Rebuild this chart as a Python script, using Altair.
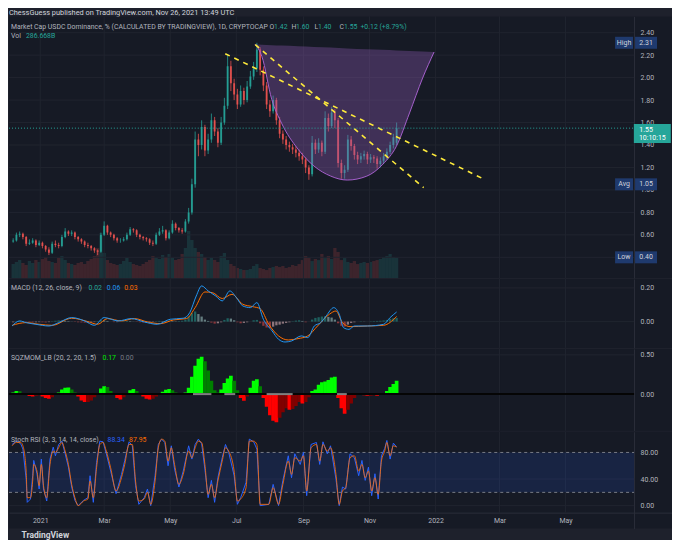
import altair as alt
import pandas as pd

# ============================ data ============================
HEADER = "ChessGuess published on TradingView.com, Nov 26, 2021 13:49 UTC"
SYMBOL = "Market Cap USDC Dominance, % (CALCULATED BY TRADINGVIEW), 1D, CRYPTOCAP"
OHLC_LETTERS = ["O", "H", "L", "C"]
OHLC_VALUES = [1.42, 1.60, 1.40, 1.55]
CHANGE_TEXT = "+0.12 (+8.79%)"
VOL_TEXT = "286.668B"
MACD_TITLE = "MACD (12, 26, close, 9)"
MACD_LAST = [0.02, 0.06, 0.03]
SQZ_TITLE = "SQZMOM_LB (20, 2, 20, 1.5)"
SQZ_LAST = [0.17, 0.00]
STOCH_TITLE = "Stoch RSI (3, 3, 14, 14, close)"
STOCH_LAST = [88.34, 87.95]
HIGH_VAL, AVG_VAL, LOW_VAL, LAST_VAL = 2.31, 1.05, 0.40, 1.55
COUNTDOWN = "10:10:15"

TIME_TICKS = ["2021-01-01", "2021-03-01", "2021-05-01", "2021-07-01", "2021-09-01",
              "2021-11-01", "2022-01-01", "2022-03-01", "2022-05-01"]
PRICE_TICKS = [0.40, 0.60, 0.80, 1.00, 1.20, 1.40, 1.60, 1.80, 2.00, 2.20, 2.40]
MACD_TICKS = [0.0, 0.2]
SQZ_TICKS = [0.0, 0.5]
STOCH_TICKS = [0, 40, 80]
STOCH_GRID = [0, 40]
STOCH_BAND = [20, 80]

# candles sampled every 3 days; day numbers count from 2021-01-01
CANDLE_FIRST_DAY = -25
CANDLE_STEP = 3
open_ = [0.54, 0.55, 0.60, 0.61, 0.58, 0.52, 0.53, 0.55, 0.51, 0.53,
         0.50, 0.47, 0.44, 0.52, 0.51, 0.50, 0.58, 0.63, 0.61, 0.62,
         0.58, 0.56, 0.54, 0.51, 0.50, 0.48, 0.46, 0.45, 0.60, 0.68,
         0.62, 0.60, 0.57, 0.55, 0.55, 0.56, 0.60, 0.65, 0.64, 0.60,
         0.58, 0.57, 0.56, 0.53, 0.52, 0.60, 0.63, 0.64, 0.57, 0.62,
         0.70, 0.66, 0.64, 0.63, 0.72, 0.80, 1.05, 1.45, 1.40, 1.56,
         1.35, 1.45, 1.62, 1.52, 1.42, 1.60, 1.75, 2.10, 1.95, 1.85,
         1.76, 1.88, 1.80, 1.92, 2.01, 2.08, 2.25, 2.07, 1.93, 1.76,
         1.70, 1.80, 1.62, 1.50, 1.45, 1.40, 1.38, 1.36, 1.33, 1.30,
         1.27, 1.20, 1.14, 1.42, 1.36, 1.42, 1.34, 1.64, 1.57, 1.69,
         1.62, 1.24, 1.15, 1.18, 1.45, 1.39, 1.31, 1.27, 1.30, 1.32,
         1.27, 1.29, 1.28, 1.23, 1.26, 1.30, 1.34, 1.40, 1.42]
high_ = [0.57, 0.62, 0.63, 0.62, 0.59, 0.56, 0.57, 0.56, 0.55, 0.54,
         0.51, 0.49, 0.54, 0.55, 0.53, 0.60, 0.66, 0.64, 0.64, 0.63,
         0.59, 0.57, 0.55, 0.53, 0.51, 0.49, 0.47, 0.62, 0.72, 0.69,
         0.63, 0.61, 0.58, 0.57, 0.58, 0.62, 0.67, 0.66, 0.65, 0.61,
         0.59, 0.58, 0.57, 0.55, 0.62, 0.66, 0.68, 0.65, 0.64, 0.73,
         0.71, 0.67, 0.66, 0.74, 0.84, 1.10, 1.52, 1.50, 1.62, 1.58,
         1.50, 1.68, 1.65, 1.55, 1.65, 1.82, 2.21, 2.15, 1.99, 1.90,
         1.93, 1.91, 1.97, 2.06, 2.14, 2.31, 2.27, 2.10, 1.96, 1.80,
         1.84, 1.82, 1.65, 1.53, 1.48, 1.43, 1.41, 1.39, 1.36, 1.33,
         1.29, 1.22, 1.48, 1.45, 1.46, 1.44, 1.70, 1.68, 1.74, 1.72,
         1.64, 1.27, 1.22, 1.49, 1.48, 1.41, 1.34, 1.33, 1.35, 1.34,
         1.32, 1.31, 1.30, 1.29, 1.33, 1.37, 1.43, 1.50, 1.60]
low_ = [0.53, 0.54, 0.58, 0.56, 0.50, 0.51, 0.52, 0.49, 0.50, 0.48,
        0.45, 0.42, 0.43, 0.49, 0.48, 0.49, 0.57, 0.59, 0.59, 0.56,
        0.54, 0.52, 0.49, 0.48, 0.46, 0.44, 0.42, 0.44, 0.59, 0.60,
        0.58, 0.55, 0.53, 0.53, 0.54, 0.55, 0.59, 0.62, 0.58, 0.56,
        0.55, 0.54, 0.51, 0.50, 0.51, 0.59, 0.61, 0.55, 0.56, 0.61,
        0.64, 0.62, 0.61, 0.62, 0.70, 0.78, 1.02, 1.30, 1.36, 1.30,
        1.32, 1.42, 1.48, 1.38, 1.40, 1.58, 1.72, 1.88, 1.80, 1.72,
        1.74, 1.76, 1.78, 1.90, 1.98, 2.05, 2.02, 1.88, 1.72, 1.65,
        1.68, 1.58, 1.46, 1.41, 1.36, 1.34, 1.32, 1.29, 1.26, 1.23,
        1.15, 1.09, 1.12, 1.32, 1.33, 1.30, 1.32, 1.52, 1.55, 1.55,
        1.20, 1.10, 1.10, 1.16, 1.35, 1.27, 1.23, 1.24, 1.27, 1.23,
        1.24, 1.24, 1.19, 1.20, 1.23, 1.27, 1.32, 1.37, 1.40]
close_ = [0.55, 0.60, 0.61, 0.58, 0.52, 0.53, 0.55, 0.51, 0.53, 0.50,
          0.47, 0.44, 0.52, 0.51, 0.50, 0.58, 0.63, 0.61, 0.62, 0.58,
          0.56, 0.54, 0.51, 0.50, 0.48, 0.46, 0.45, 0.60, 0.68, 0.62,
          0.60, 0.57, 0.55, 0.55, 0.56, 0.60, 0.65, 0.64, 0.60, 0.58,
          0.57, 0.56, 0.53, 0.52, 0.60, 0.63, 0.64, 0.57, 0.62, 0.70,
          0.66, 0.64, 0.63, 0.72, 0.80, 1.05, 1.45, 1.40, 1.56, 1.35,
          1.45, 1.62, 1.52, 1.42, 1.60, 1.75, 2.10, 1.95, 1.85, 1.76,
          1.88, 1.80, 1.92, 2.01, 2.08, 2.25, 2.07, 1.93, 1.76, 1.70,
          1.80, 1.62, 1.50, 1.45, 1.40, 1.38, 1.36, 1.33, 1.30, 1.27,
          1.20, 1.14, 1.42, 1.36, 1.42, 1.34, 1.64, 1.57, 1.69, 1.62,
          1.24, 1.15, 1.18, 1.45, 1.39, 1.31, 1.27, 1.30, 1.32, 1.27,
          1.29, 1.28, 1.23, 1.26, 1.30, 1.34, 1.40, 1.47, 1.55]
volume_b = [200, 230, 257, 215, 186, 243, 215, 257, 229, 272,
            300, 243, 229, 215, 286, 315, 257, 215, 200, 186,
            215, 229, 200, 243, 272, 315, 430, 640, 357, 257,
            215, 200, 186, 200, 243, 286, 229, 200, 186, 172,
            200, 229, 257, 315, 286, 272, 329, 300, 343, 286,
            257, 272, 343, 430, 672, 543, 429, 372, 343, 300,
            257, 286, 257, 229, 315, 357, 257, 200, 172, 143,
            129, 114, 114, 129, 172, 200, 143, 129, 114, 143,
            157, 172, 157, 172, 143, 157, 186, 172, 200, 257,
            315, 286, 243, 272, 257, 343, 286, 315, 272, 429,
            372, 257, 286, 229, 215, 243, 200, 215, 229, 215,
            229, 243, 257, 272, 300, 315, 343, 300, 287]
macd_hist = [-0.004, 0.002, 0.004, 0.002, -0.002, -0.004, -0.005, -0.004, -0.003, -0.004,
             -0.005, -0.003, 0.002, 0.005, 0.007, 0.006, 0.004, 0.003, 0.001, -0.002,
             -0.004, -0.005, -0.006, -0.006, -0.005, -0.003, 0.003, 0.008, 0.007, 0.004,
             0.0, -0.003, -0.003, 0.0, 0.002, 0.004, 0.003, 0.001, -0.002, -0.004,
             -0.005, -0.005, -0.004, -0.002, 0.002, 0.004, 0.003, 0.002, 0.004, 0.003,
             0.002, 0.003, 0.005, 0.012, 0.030, 0.050, 0.060, 0.045, 0.030, 0.012,
             0.004, -0.006, -0.012, -0.010, -0.004, 0.010, 0.020, 0.018, 0.008, -0.004,
             -0.010, -0.008, -0.004, 0.0, 0.008, 0.010, -0.010, -0.025, -0.035, -0.038,
             -0.030, -0.022, -0.018, -0.012, -0.008, -0.004, 0.002, 0.006, 0.008, 0.004,
             -0.004, 0.0, 0.012, 0.022, 0.026, 0.030, 0.032, 0.028, 0.024, 0.012,
             -0.010, -0.025, -0.030, -0.018, -0.008, -0.004, 0.0, 0.002, 0.001, 0.0,
             0.002, 0.003, 0.004, 0.005, 0.007, 0.010, 0.016, 0.020, 0.022]
sqz_mom = [0.02, 0.04, 0.035, 0.01, -0.01, -0.025, -0.03, -0.02, -0.015, -0.03,
           -0.05, -0.06, -0.04, -0.01, 0.02, 0.06, 0.08, 0.085, 0.06, 0.02,
           -0.03, -0.08, -0.10, -0.10, -0.08, -0.04, 0.0, 0.07, 0.10, 0.09,
           0.04, -0.01, -0.05, -0.07, -0.04, 0.01, 0.05, 0.064, 0.04, 0.005,
           -0.03, -0.06, -0.07, -0.06, -0.03, 0.005, 0.03, 0.055, 0.064, 0.05,
           0.02, 0.01, 0.012, 0.02, 0.08, 0.22, 0.36, 0.45, 0.475, 0.42,
           0.30, 0.17, 0.05, 0.02, 0.06, 0.14, 0.20, 0.233, 0.17, 0.05,
           -0.05, -0.085, -0.03, 0.08, 0.17, 0.19, 0.10, -0.05, -0.16, -0.27,
           -0.34, -0.36, -0.30, -0.23, -0.18, -0.20, -0.19, -0.15, -0.10, -0.12,
           -0.10, -0.04, 0.04, 0.06, 0.12, 0.15, 0.16, 0.18, 0.21, 0.22,
           -0.05, -0.18, -0.25, -0.20, -0.12, -0.05, -0.01, -0.01, -0.015, -0.02,
           -0.02, -0.015, -0.02, -0.01, 0.005, 0.04, 0.09, 0.13, 0.17]
SQZ_OFF_START = [141, 170, 209, 274]
SQZ_OFF_END = [158, 180, 233, 283]

macd_days = [-26, -19, -13, -4, 8, 17, 29, 41, 50, 59, 72, 84, 96, 108, 120, 132, 138, 144, 149, 155,
             162, 168, 175, 181, 187, 194, 200, 206, 214, 220, 226, 232, 241, 247, 253, 259, 264, 271,
             276, 280, 285, 290, 302, 317, 323, 329]
macd_line = [-0.026, 0.004, -0.006, -0.016, -0.026, -0.006, 0.024, 0.004, -0.022, 0.024,
             0.004, 0.018, -0.002, -0.016, 0.014, 0.020, 0.053, 0.152, 0.212, 0.182,
             0.152, 0.123, 0.182, 0.143, 0.093, 0.083, 0.113, 0.014, -0.055, -0.105,
             -0.121, -0.115, -0.085, -0.095, -0.026, -0.006, 0.034, 0.083, 0.044, -0.036,
             -0.046, -0.026, -0.026, -0.016, 0.024, 0.057]
signal_days = [-26, -13, -1, 11, 29, 44, 53, 62, 75, 87, 99, 111, 123, 135, 143, 152, 159, 168, 177,
               187, 196, 203, 211, 220, 229, 238, 247, 256, 267, 273, 279, 286, 302, 317, 329]
signal_line = [-0.022, -0.006, -0.016, -0.022, 0.020, 0.0, -0.016, 0.018, 0.004, 0.018,
               -0.002, -0.012, 0.010, 0.018, 0.083, 0.176, 0.172, 0.137, 0.162, 0.103,
               0.089, 0.077, -0.016, -0.085, -0.109, -0.101, -0.085, -0.026, 0.044, 0.063,
               -0.006, -0.030, -0.026, -0.022, 0.030]

stoch_days = [-26, -22, -18, -16, -13, -12, -9, -7, -6, -3,
              -1, 1, 3, 6, 9, 12, 14, 17, 20, 23,
              26, 29, 32, 35, 40, 44, 46, 49, 52, 55,
              58, 61, 65, 70, 75, 78, 82, 85, 88, 91,
              96, 99, 102, 106, 109, 112, 115, 118, 121, 124,
              128, 132, 137, 140, 143, 146, 149, 152, 155, 158,
              161, 164, 168, 171, 174, 179, 182, 185, 190, 193,
              197, 200, 203, 211, 215, 220, 224, 229, 232, 235,
              240, 243, 246, 250, 255, 258, 261, 265, 268, 273,
              276, 279, 282, 286, 290, 294, 297, 300, 303, 306,
              309, 312, 315, 318, 320, 323, 326, 329]
stoch_k = [92, 97, 93, 85, 40, 5, 10, 45, 68, 48,
           25, 70, 25, 7, 70, 88, 75, 92, 97, 78,
           58, 28, 8, 0, 8, 12, 45, 5, 65, 97,
           96, 78, 52, 18, 47, 68, 96, 90, 30, 2,
           12, 25, 0, 45, 92, 100, 95, 60, 90, 55,
           28, 52, 90, 70, 92, 100, 93, 55, 12, 38,
           5, 42, 72, 92, 80, 45, 2, 12, 35, 100,
           96, 85, 0, 2, 32, 0, 38, 75, 42, 78,
           62, 80, 15, 92, 95, 62, 96, 78, 90, 40,
           0, 28, 25, 78, 72, 45, 68, 38, 58, 15,
           48, 10, 75, 86, 98, 70, 94, 88.34]
stoch_d = [90, 95, 95, 90, 52, 12, 12, 37, 62, 52,
           30, 62, 30, 12, 62, 82, 80, 87, 95, 82,
           62, 32, 12, 0, 7, 10, 37, 12, 57, 92,
           95, 82, 57, 22, 42, 62, 92, 92, 37, 7,
           10, 20, 2, 37, 87, 100, 97, 67, 87, 62,
           32, 47, 82, 72, 87, 97, 95, 62, 17, 32,
           12, 37, 67, 87, 82, 52, 7, 10, 27, 97,
           97, 92, 2, 2, 27, 2, 32, 67, 47, 72,
           67, 75, 22, 87, 92, 67, 92, 82, 87, 47,
           2, 22, 27, 72, 75, 52, 62, 42, 52, 22,
           42, 17, 67, 82, 95, 75, 90, 87.95]

# drawings: cup outline and two falling trend lines
cup_days = [198.3, 204.6, 213.7, 222.8, 238.0, 252.8, 268.2, 283.4, 301.5, 316.3, 328.8, 340.9, 353.0, 363.6]
cup_low = [2.296, 2.189, 1.807, 1.594, 1.363, 1.212, 1.123, 1.088, 1.123, 1.229, 1.389, 1.685, 1.996, 2.228]
cup_top = [2.296, 2.293, 2.289, 2.285, 2.279, 2.273, 2.267, 2.260, 2.253, 2.247, 2.242, 2.237, 2.232, 2.228]
trend_a_days, trend_a_vals = [170.8, 407.7], [2.213, 1.105]
trend_b_days, trend_b_vals = [198.5, 354.0], [2.293, 1.020]

# ============================ styling / layout ============================
FONT = "Roboto"
BG_OUT = "#1e212c"
BG_IN = "#161a25"
GRID = "#20242f"
SEP = "#2a2e39"
TXT = "#b2b5be"
UP = "#26a69a"
DOWN = "#ef5350"
BLUE = "#2196f3"
ORANGE = "#ff6d00"
BADGE = "#1f3a6e"
LEG = 6.9          # legend font size

W = 664            # view width including the price-scale strip
PW = 626           # plotting width (left of the price scale)
PX_PER_DAY = 1.1014
D0 = -24.24
D1 = D0 + W / PX_PER_DAY
H_HEAD, H_MAIN, H_MACD, H_SQZ, H_STOCH, H_TIME = 6, 262, 69, 82, 81, 16

BASE = pd.Timestamp("2021-01-01", tz="UTC")


def iso(days):
    return [(BASE + pd.Timedelta(days=float(d))).strftime("%Y-%m-%dT%H:%M:%SZ") for d in days]


def ms(d):
    return int((BASE + pd.Timedelta(days=float(d))).timestamp() * 1000)


XS = alt.Scale(type="utc", domain=[ms(D0), ms(D1)])
TICK_MS = [int(pd.Timestamp(t, tz="UTC").timestamp() * 1000) for t in TIME_TICKS]
XAX_BOTTOM = alt.Axis(
    orient="bottom", offset=-H_TIME, values=TICK_MS, grid=False, ticks=False,
    domain=True, domainColor=SEP, labelColor=TXT, labelFontSize=7, labelFont=FONT,
    labelPadding=4, labelFlush=False, labelOverlap=False,
    labelExpr="utcmonth(datum.value) === 0 ? utcFormat(datum.value, '%Y') : utcFormat(datum.value, '%b')",
    title="TradingView", titleX=12, titleY=22, titleAlign="left", titleAnchor="start",
    titleBaseline="middle", titleAngle=0, titleFontSize=8.5, titleFontWeight="bold",
    titleColor="#d1d4dc", titleFont=FONT,
)


def yaxis(values):
    return alt.Axis(orient="right", offset=PW - W, values=values, format=".2f",
                    labelColor=TXT, labelFontSize=7, labelFont=FONT, labelPadding=6,
                    ticks=False, grid=False, domain=True, domainColor=SEP, title=None,
                    labelOverlap=False)


def label(text, x, y, color=TXT, size=LEG):
    return alt.Chart(pd.DataFrame({"t": [text]})).mark_text(
        align="left", baseline="middle", font=FONT, fontSize=size, color=color
    ).encode(x=alt.value(x), y=alt.value(y), text="t:N")


def grids(ys, yax, xax, ticks, h):
    hg = alt.Chart(pd.DataFrame({"v": ticks})).mark_rule(color=GRID, strokeWidth=1).encode(
        y=alt.Y("v:Q", scale=ys, axis=yax), x=alt.value(0), x2=alt.value(PW))
    vg = alt.Chart(pd.DataFrame({"t": TIME_TICKS})).mark_rule(color=GRID, strokeWidth=1).encode(
        x=alt.X("t:T", scale=XS, axis=xax), y=alt.value(0), y2=alt.value(h))
    return [hg, vg]


candle_days = [CANDLE_FIRST_DAY + CANDLE_STEP * i for i in range(len(close_))]
cand = pd.DataFrame({"date": iso(candle_days), "o": open_, "h": high_, "l": low_,
                     "c": close_, "vol": volume_b})
cand["col"] = [UP if c >= o else DOWN for o, c in zip(open_, close_)]

# ---------------------------- main panel ----------------------------
YS_MAIN = alt.Scale(domain=[0.216, 2.545], nice=False, zero=False)
YAX_MAIN = yaxis(PRICE_TICKS)
X = alt.X("date:T", scale=XS, axis=None)


def ym(f):
    return alt.Y(f, scale=YS_MAIN, axis=YAX_MAIN)


vol_layer = alt.Chart(cand).mark_bar(clip=True, width=3.3, opacity=0.18).encode(
    x=X, y=alt.Y("vol:Q", scale=alt.Scale(domain=[0, 3750], nice=False), axis=None),
    color=alt.Color("col:N", scale=None))

wick = alt.Chart(cand).mark_rule(clip=True, strokeWidth=0.9, opacity=0.85).encode(
    x=X, y=ym("l:Q"), y2="h:Q", color=alt.Color("col:N", scale=None))
body = alt.Chart(cand).mark_bar(clip=True, width=1.9, opacity=0.85).encode(
    x=X, y=ym("o:Q"), y2="c:Q", color=alt.Color("col:N", scale=None))

cup = pd.DataFrame({"date": iso(cup_days), "lo": cup_low, "hi": cup_top})
cup_fill = alt.Chart(cup).mark_area(color="#8e5bb5", opacity=0.35, interpolate="monotone").encode(
    x=X, y=ym("lo:Q"), y2="hi:Q")
cup_edge = alt.Chart(cup).mark_line(color="#a55fcc", strokeWidth=1, interpolate="monotone").encode(
    x=X, y=ym("lo:Q"))

trend = pd.DataFrame({"date": iso(trend_a_days + trend_b_days),
                      "v": trend_a_vals + trend_b_vals, "g": ["a", "a", "b", "b"]})
trend_lines = alt.Chart(trend).mark_line(color="#ffeb3b", strokeWidth=1.6, strokeDash=[5, 5]).encode(
    x=X, y=ym("v:Q"), detail="g:N")

last_df = pd.DataFrame({"v": [LAST_VAL]})
price_line = alt.Chart(last_df).mark_rule(color=UP, strokeDash=[1, 2], strokeWidth=1).encode(
    y=ym("v:Q"), x=alt.value(0), x2=alt.value(PW))

BOX_V = "M-1,-0.545L1,-0.545L1,0.545L-1,0.545Z"
BOX_L = "M-1,-0.667L1,-0.667L1,0.667L-1,0.667Z"
BOX_G = "M-1,-0.514L1,-0.514L1,0.514L-1,0.514Z"


def box(val, xc, path, size, color, yoff=0.0):
    return alt.Chart(pd.DataFrame({"v": [val]})).mark_point(
        shape=path, size=size, filled=True, color=color, opacity=1, strokeWidth=0, yOffset=yoff
    ).encode(x=alt.value(xc), y=ym("v:Q"))


def box_text(val, text, xc, color="#d1d4dc", dy=0.0):
    return alt.Chart(pd.DataFrame({"v": [val], "t": [text]})).mark_text(
        align="center", baseline="middle", font=FONT, fontSize=7, color=color, dy=dy
    ).encode(x=alt.value(xc), y=ym("v:Q"), text="t:N")


badges = []
for val, name in [(HIGH_VAL, "High"), (AVG_VAL, "Avg"), (LOW_VAL, "Low")]:
    badges += [box(val, PW - 10, BOX_L, 324, BADGE), box(val, PW + 12, BOX_V, 484, BADGE),
               box_text(val, name, PW - 10), box_text(val, f"{val:.2f}", PW + 12)]
badges += [box(LAST_VAL, PW + 18.3, BOX_G, 1369, UP, 5.3),
           box_text(LAST_VAL, f"{LAST_VAL:.2f}", PW + 12, "#ffffff", 1.4),
           box_text(LAST_VAL, COUNTDOWN, PW + 18.3, "#ffffff", 9.8)]

legend_main = [label(SYMBOL, 2, 11)]
for letter, value, lx, vx in zip(OHLC_LETTERS, OHLC_VALUES, [261, 283, 306, 331], [265.5, 287.5, 309.5, 335.5]):
    legend_main += [label(letter, lx, 11), label(f"{value:.2f}", vx, 11, UP)]
legend_main += [label(CHANGE_TEXT, 352, 11, UP), label("Vol", 2, 20), label(VOL_TEXT, 17, 20, UP)]

main_rest = alt.layer(
    *grids(YS_MAIN, YAX_MAIN, None, PRICE_TICKS, H_MAIN),
    wick, body, cup_fill, cup_edge, trend_lines, price_line, *legend_main, *badges)
main = alt.layer(vol_layer, main_rest).resolve_scale(y="independent").properties(width=W, height=H_MAIN)

# ---------------------------- MACD ----------------------------
YS_MACD = alt.Scale(domain=[-0.156, 0.253], nice=False, zero=False)
YAX_MACD = yaxis(MACD_TICKS)
hist_df = pd.DataFrame({"date": iso(candle_days), "h": macd_hist})
prev_h = [macd_hist[0]] + macd_hist[:-1]
hist_df["col"] = [("#26a69a" if h >= p else "#b2dfdb") if h >= 0 else ("#ff5252" if h < p else "#ffcdd2")
                  for h, p in zip(macd_hist, prev_h)]
hist = alt.Chart(hist_df).mark_bar(clip=True, width=2.3, opacity=0.5).encode(
    x=X, y=alt.Y("h:Q", scale=YS_MACD, axis=YAX_MACD), color=alt.Color("col:N", scale=None))
macd_l = alt.Chart(pd.DataFrame({"date": iso(macd_days), "v": macd_line})).mark_line(
    clip=True, color=BLUE, strokeWidth=1, interpolate="monotone").encode(
    x=X, y=alt.Y("v:Q", scale=YS_MACD, axis=YAX_MACD))
sig_l = alt.Chart(pd.DataFrame({"date": iso(signal_days), "v": signal_line})).mark_line(
    clip=True, color=ORANGE, strokeWidth=1, interpolate="monotone").encode(
    x=X, y=alt.Y("v:Q", scale=YS_MACD, axis=YAX_MACD))
macd_leg = [label(MACD_TITLE, 2, 9.3), label(f"{MACD_LAST[0]:.2f}", 79.7, 9.3, UP),
            label(f"{MACD_LAST[1]:.2f}", 98, 9.3, BLUE), label(f"{MACD_LAST[2]:.2f}", 115.3, 9.3, ORANGE)]
macd = alt.layer(*grids(YS_MACD, YAX_MACD, None, MACD_TICKS, H_MACD), hist, sig_l, macd_l,
                 *macd_leg).properties(width=W, height=H_MACD)

# ---------------------------- SQZMOM ----------------------------
YS_SQZ = alt.Scale(domain=[-0.467, 0.576], nice=False, zero=False)
YAX_SQZ = yaxis(SQZ_TICKS)
sqz_df = pd.DataFrame({"date": iso(candle_days), "m": sqz_mom})
prev_m = [sqz_mom[0]] + sqz_mom[:-1]
sqz_df["col"] = [("#00ff00" if m >= p else "#008000") if m >= 0 else ("#ff0000" if m < p else "#800000")
                 for m, p in zip(sqz_mom, prev_m)]
sqz_bars = alt.Chart(sqz_df).mark_bar(clip=True, width=3.7).encode(
    x=X, y=alt.Y("m:Q", scale=YS_SQZ, axis=YAX_SQZ), color=alt.Color("col:N", scale=None))
zero_line = alt.Chart(pd.DataFrame({"v": [0.0]})).mark_rule(color="#050505", strokeWidth=2).encode(
    y=alt.Y("v:Q", scale=YS_SQZ, axis=YAX_SQZ), x=alt.value(0), x2=alt.value(PW))
off_df = pd.DataFrame({"s": iso(SQZ_OFF_START), "e": iso(SQZ_OFF_END), "v": [0.0] * len(SQZ_OFF_START)})
sqz_off = alt.Chart(off_df).mark_rule(color="#808080", strokeWidth=2).encode(
    x=alt.X("s:T", scale=XS, axis=None), x2="e:T", y=alt.Y("v:Q", scale=YS_SQZ, axis=YAX_SQZ))
sqz_leg = [label(SQZ_TITLE, 2, 8.7), label(f"{SQZ_LAST[0]:.2f}", 93.7, 8.7, "#00e600"),
           label(f"{SQZ_LAST[1]:.2f}", 111.3, 8.7, "#787b86")]
sqz = alt.layer(*grids(YS_SQZ, YAX_SQZ, None, SQZ_TICKS, H_SQZ), sqz_bars, zero_line, sqz_off,
                *sqz_leg).properties(width=W, height=H_SQZ)

# ---------------------------- Stoch RSI ----------------------------
YS_ST = alt.Scale(domain=[-34.5, 111.1], nice=False, zero=False)
YAX_ST = alt.Axis(orient="right", offset=PW - W, values=STOCH_TICKS, format=".2f",
                  labelColor=TXT, labelFontSize=7, labelFont=FONT, labelPadding=6,
                  ticks=False, grid=False, domain=True, domainColor=SEP, title=None,
                  labelOverlap=False)
XB = alt.X("date:T", scale=XS, axis=XAX_BOTTOM)
band = alt.Chart(pd.DataFrame({"lo": [STOCH_BAND[0]], "hi": [STOCH_BAND[1]]})).mark_rect(
    color="#2962ff", opacity=0.14).encode(
    y=alt.Y("hi:Q", scale=YS_ST, axis=YAX_ST), y2="lo:Q", x=alt.value(0), x2=alt.value(PW))
band_lines = alt.Chart(pd.DataFrame({"v": STOCH_BAND})).mark_rule(
    color="#787b86", strokeDash=[3, 3], strokeWidth=1).encode(
    y=alt.Y("v:Q", scale=YS_ST, axis=YAX_ST), x=alt.value(0), x2=alt.value(PW))
st_df = pd.DataFrame({"date": iso(stoch_days), "k": stoch_k, "d": stoch_d})
k_line = alt.Chart(st_df).mark_line(clip=True, color="#2962ff", strokeWidth=1).encode(
    x=XB, y=alt.Y("k:Q", scale=YS_ST, axis=YAX_ST))
d_line = alt.Chart(st_df).mark_line(clip=True, color=ORANGE, strokeWidth=1, opacity=0.85,
                                    interpolate="monotone").encode(
    x=XB, y=alt.Y("d:Q", scale=YS_ST, axis=YAX_ST))
st_leg = [label(STOCH_TITLE, 2, 8.3), label(f"{STOCH_LAST[0]:.2f}", 98.7, 8.3, "#2962ff"),
          label(f"{STOCH_LAST[1]:.2f}", 120.3, 8.3, ORANGE)]
stoch = alt.layer(*grids(YS_ST, YAX_ST, XAX_BOTTOM, STOCH_GRID, H_STOCH), band, band_lines,
                  k_line, d_line, *st_leg).properties(width=W, height=H_STOCH + H_TIME)

# ---------------------------- header ----------------------------
header = alt.Chart(pd.DataFrame({"t": [HEADER]})).mark_text(
    align="left", baseline="middle", font=FONT, fontSize=7.4, color="#d1d4dc"
).encode(x=alt.value(0), y=alt.value(3.5), text="t:N").properties(
    width=W, height=H_HEAD, view=alt.ViewBackground(fill=BG_OUT, strokeWidth=0))

chart = alt.vconcat(header, main, macd, sqz, stoch, spacing=1, bounds="flush").resolve_scale(
    x="shared", y="independent"
).configure(
    background=BG_OUT, padding={"left": 0, "top": 0, "right": 0, "bottom": 0}
).configure_view(strokeWidth=0, fill=BG_IN).configure_axis(labelFont=FONT, titleFont=FONT)

chart.save("out.html", embed_options={"renderer": "svg", "actions": False})
